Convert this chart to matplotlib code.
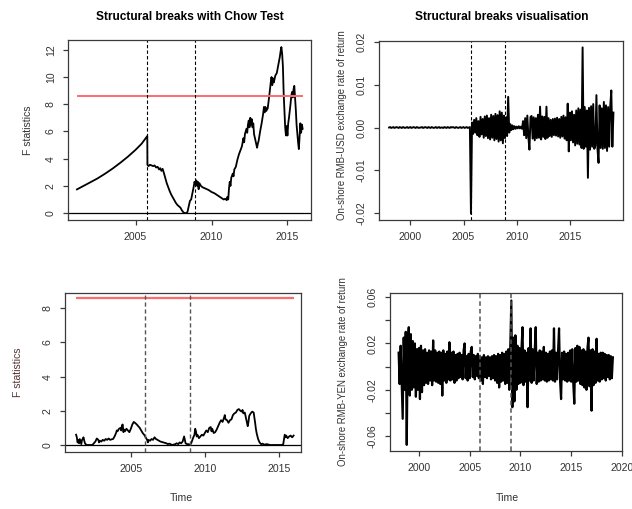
import numpy as np
import matplotlib
matplotlib.use("Agg")
import matplotlib.pyplot as plt

plt.rcParams['font.family'] = ['Liberation Sans', 'DejaVu Sans']

# ---------------- data ----------------
# Panel 1: Chow F statistics, RMB-USD
usd_f_time = [2001.14, 2001.5, 2002.0, 2002.5, 2003.0, 2003.5, 2004.0, 2004.5, 2005.0, 2005.4, 2005.77,
              2005.78, 2005.85, 2005.95, 2006.05, 2006.15, 2006.25, 2006.35, 2006.45, 2006.55, 2006.62,
              2006.7, 2006.78, 2006.85, 2006.95, 2007.05, 2007.15, 2007.25, 2007.35, 2007.45, 2007.55,
              2007.65, 2007.75, 2007.85, 2007.95, 2008.05, 2008.15, 2008.25, 2008.35, 2008.42, 2008.5,
              2008.58, 2008.66, 2008.75, 2008.82, 2008.88, 2008.95, 2009.0, 2009.05, 2009.1, 2009.15,
              2009.2, 2009.3, 2009.4, 2009.5, 2009.6, 2009.8, 2010.0, 2010.2, 2010.4, 2010.6,
              2010.8, 2010.9, 2011.0, 2011.05, 2011.1, 2011.15, 2011.2, 2011.25, 2011.3, 2011.4,
              2011.45, 2011.5, 2011.6, 2011.7, 2011.8, 2011.9, 2012.0, 2012.1, 2012.15, 2012.2,
              2012.3, 2012.35, 2012.4, 2012.45, 2012.5, 2012.55, 2012.6, 2012.65, 2012.7, 2012.75,
              2012.8, 2012.9, 2013.0, 2013.05, 2013.1, 2013.2, 2013.3, 2013.4, 2013.45, 2013.5,
              2013.55, 2013.6, 2013.7, 2013.8, 2013.9, 2013.95, 2014.0, 2014.05, 2014.1, 2014.2,
              2014.3, 2014.35, 2014.4, 2014.45, 2014.5, 2014.55, 2014.6, 2014.65, 2014.7, 2014.75,
              2014.8, 2014.85, 2014.9, 2014.95, 2015.0, 2015.05, 2015.1, 2015.2, 2015.25, 2015.3,
              2015.35, 2015.4, 2015.45, 2015.5, 2015.55, 2015.6, 2015.65, 2015.7, 2015.75, 2015.8,
              2015.85, 2015.9, 2015.95, 2016.0]
usd_f_value = [1.74, 1.95, 2.25, 2.55, 2.9, 3.28, 3.7, 4.15, 4.65, 5.1, 5.66,
               3.55, 3.45, 3.55, 3.5, 3.45, 3.5, 3.35, 3.4, 3.2, 3.3,
               3.1, 3.25, 3.0, 2.6, 2.2, 1.9, 1.6, 1.35, 1.15, 0.95,
               0.75, 0.6, 0.5, 0.4, 0.2, 0.05, 0.0, 0.0, 0.1, 0.5,
               0.9, 1.0, 1.5, 1.9, 2.3, 2.1, 2.4, 2.0, 2.3, 1.75,
               2.2, 2.0, 1.9, 1.85, 1.8, 1.7, 1.55, 1.45, 1.3, 1.15,
               1.0, 1.05, 0.95, 1.2, 1.0, 1.8, 2.3, 2.0, 2.6, 2.9,
               2.7, 3.2, 3.4, 3.9, 4.3, 4.6, 4.9, 5.5, 5.2, 5.8,
               6.2, 5.9, 6.5, 6.8, 6.3, 7.0, 6.5, 6.9, 6.3, 6.6,
               5.8, 5.3, 4.8, 5.1, 5.3, 6.0, 6.6, 7.3, 7.8, 7.4,
               7.8, 7.5, 7.7, 8.6, 9.6, 10.0, 9.4, 9.9, 9.6, 10.1,
               10.3, 10.6, 10.9, 11.2, 11.5, 11.9, 12.2, 11.7, 10.8, 8.8,
               7.5, 6.3, 5.7, 6.4, 5.7, 6.6, 7.0, 8.0, 8.6, 8.9,
               8.5, 9.1, 9.35, 8.5, 7.6, 6.5, 5.8, 5.2, 4.7, 5.6,
               6.6, 5.9, 6.5, 6.2]

# Panel 3: Chow F statistics, RMB-YEN
yen_f_time = [2001.3, 2001.35, 2001.4, 2001.45, 2001.5, 2001.55, 2001.6, 2001.65, 2001.7, 2001.75,
              2001.8, 2001.85, 2001.9, 2001.95, 2002.0, 2002.2, 2002.4, 2002.5, 2002.6, 2002.7,
              2002.8, 2002.85, 2002.9, 2003.0, 2003.1, 2003.2, 2003.3, 2003.4, 2003.5, 2003.6,
              2003.7, 2003.8, 2003.9, 2004.0, 2004.05, 2004.1, 2004.2, 2004.3, 2004.35, 2004.4,
              2004.45, 2004.5, 2004.55, 2004.6, 2004.7, 2004.8, 2004.9, 2005.0, 2005.1, 2005.2,
              2005.3, 2005.4, 2005.5, 2005.6, 2005.7, 2005.8, 2005.9, 2006.0, 2006.1, 2006.15,
              2006.2, 2006.3, 2006.4, 2006.5, 2006.6, 2006.7, 2006.8, 2006.9, 2007.0, 2007.2,
              2007.4, 2007.5, 2007.6, 2007.8, 2008.0, 2008.1, 2008.2, 2008.3, 2008.4, 2008.5,
              2008.6, 2008.65, 2008.7, 2008.8, 2008.9, 2009.0, 2009.1, 2009.2, 2009.3, 2009.35,
              2009.4, 2009.45, 2009.5, 2009.6, 2009.7, 2009.8, 2009.9, 2010.0, 2010.1, 2010.2,
              2010.3, 2010.4, 2010.45, 2010.5, 2010.6, 2010.7, 2010.8, 2010.9, 2011.0, 2011.1,
              2011.2, 2011.3, 2011.35, 2011.4, 2011.5, 2011.6, 2011.7, 2011.8, 2011.9, 2012.0,
              2012.1, 2012.2, 2012.3, 2012.4, 2012.5, 2012.55, 2012.6, 2012.7, 2012.75, 2012.85,
              2012.9, 2012.95, 2013.0, 2013.1, 2013.2, 2013.3, 2013.35, 2013.4, 2013.45, 2013.5,
              2013.6, 2013.7, 2013.8, 2013.9, 2014.0, 2014.2, 2014.4, 2014.6, 2014.8, 2015.0,
              2015.2, 2015.3, 2015.4, 2015.45, 2015.5, 2015.6, 2015.7, 2015.8, 2015.9, 2016.0]
yen_f_value = [0.6, 0.45, 0.15, 0.3, 0.1, 0.35, 0.2, 0.05, 0.3, 0.35,
               0.45, 0.25, 0.1, 0.05, 0.0, 0.0, 0.0, 0.1, 0.2, 0.38,
               0.3, 0.15, 0.25, 0.2, 0.3, 0.25, 0.35, 0.3, 0.38, 0.3,
               0.33, 0.35, 0.5, 0.7, 0.85, 0.8, 0.95, 1.0, 0.85, 1.15,
               1.2, 0.75, 0.9, 0.8, 0.95, 0.85, 0.75, 0.95, 1.2, 1.35,
               1.28, 1.2, 1.1, 1.0, 0.85, 0.7, 0.6, 0.45, 0.3, 0.15,
               0.3, 0.25, 0.35, 0.3, 0.45, 0.35, 0.3, 0.25, 0.2, 0.15,
               0.1, 0.05, 0.08, 0.0, 0.05, 0.1, 0.05, 0.15, 0.1, 0.2,
               0.5, 0.3, 0.1, 0.05, 0.05, 0.0, 0.15, 0.4, 0.6, 0.95,
               0.8, 0.5, 0.6, 0.4, 0.5, 0.6, 0.55, 0.7, 0.85, 0.75,
               1.0, 1.05, 0.8, 0.95, 0.7, 0.75, 0.9, 1.1, 1.3, 1.45,
               1.35, 1.6, 1.75, 1.5, 1.45, 1.3, 1.45, 1.5, 1.75, 1.85,
               1.9, 2.05, 2.1, 2.0, 1.95, 2.05, 1.85, 1.9, 1.7, 1.3,
               1.1, 1.35, 1.7, 1.85, 1.95, 1.9, 1.6, 1.3, 0.95, 0.7,
               0.35, 0.15, 0.05, 0.08, 0.02, 0.05, 0.0, 0.0, 0.0, 0.0,
               0.0, 0.05, 0.6, 0.45, 0.55, 0.4, 0.5, 0.55, 0.45, 0.55]

critical_value = 8.6

usd_breaks = [2005.75, 2008.92]
yen_f_breaks = [2005.95, 2009.0]
yen_r_breaks = [2005.98, 2009.04]

# Returns (10 observations per year from 1998.0)
ret_start = 1998.0
ret_freq = 10
usd_return = [
    0.0, 0.0001, -0.0001, 0.0, 0.0001, -0.0001, 0.0, 0.0001, 0.0, -0.0001,
    0.0001, 0.0, -0.0001, 0.0001, 0.0, -0.0001, 0.0, 0.0001, -0.0001, 0.0,
    0.0001, -0.0001, 0.0, 0.0001, 0.0, -0.0001, 0.0001, 0.0, -0.0001, 0.0,
    0.0, 0.0001, -0.0001, 0.0, 0.0001, 0.0, -0.0001, 0.0001, 0.0, -0.0001,
    0.0001, 0.0, -0.0001, 0.0, 0.0001, -0.0001, 0.0, 0.0001, -0.0001, 0.0,
    0.0, -0.0001, 0.0001, 0.0, -0.0001, 0.0001, 0.0, -0.0001, 0.0001, 0.0,
    0.0001, 0.0, -0.0001, 0.0001, 0.0, -0.0001, 0.0, 0.0001, -0.0001, 0.0,
    0.0001, -0.0001, 0.0, 0.0001, -0.0001, 0.0, 0.0001, -0.0202, 0.0012, -0.0015,
    0.0018, -0.0012, 0.0022, -0.0018, 0.0015, -0.0022, 0.0025, -0.0016, 0.002, -0.0024,
    0.0026, -0.002, 0.0028, -0.0025, 0.0022, -0.0028, 0.003, -0.0024, 0.0027, -0.003,
    0.0032, -0.0027, 0.0029, -0.0033, 0.0038, -0.003, 0.0035, -0.0037, 0.0028, -0.0025,
    0.0024, -0.002, 0.0072, -0.0012, 0.0008, -0.0006, 0.0005, -0.0004, 0.0003, -0.0003,
    0.0002, -0.0002, 0.0003, -0.0002, 0.0002, -0.0003, 0.0015, -0.0018, 0.0022, -0.0025,
    0.0028, -0.0022, -0.0052, 0.0025, 0.0027, -0.0026, 0.0024, -0.003, 0.0022, -0.0025,
    0.003, -0.0024, 0.0049, -0.0028, 0.0026, -0.0022, 0.0025, -0.0027, 0.0049, -0.0024,
    0.0022, -0.002, 0.0018, -0.0022, 0.002, -0.0018, 0.0021, -0.0019, 0.0023, -0.0021,
    0.002, -0.0024, 0.0025, -0.0021, 0.0028, -0.0026, 0.0024, -0.003, 0.0056, -0.0056,
    0.0035, -0.003, 0.0038, -0.0035, 0.003, -0.0042, 0.004, -0.0038, 0.0045, -0.004,
    0.0042, -0.0048, 0.0188, -0.005, 0.0048, -0.0045, 0.004, -0.0118, 0.0046, -0.0052,
    0.005, -0.0045, 0.0055, -0.005, -0.0042, 0.0076, -0.005, -0.0083, 0.0052, -0.0048,
    0.0045, -0.005, 0.006, -0.0048, 0.0052, -0.0055, 0.0048, -0.0045, 0.005, 0.0087,
    -0.0045, 0.0035]
yen_return = [
    0.012, -0.015, 0.018, -0.012, -0.045, 0.025, -0.02, 0.03, -0.0675, 0.022,
    0.034, -0.025, 0.028, -0.02, 0.022, -0.018, 0.02, -0.026, 0.015, -0.02,
    0.016, -0.028, 0.018, -0.022, 0.014, -0.016, 0.015, -0.014, 0.012, -0.015,
    0.014, -0.012, 0.013, -0.016, 0.0226, -0.012, 0.014, -0.013, 0.012, -0.014,
    0.013, -0.015, 0.012, -0.025, 0.014, -0.012, 0.011, -0.014, 0.013, -0.011,
    0.021, -0.012, 0.012, -0.011, 0.013, -0.014, 0.01, -0.012, 0.011, -0.01,
    0.012, -0.009, 0.01, -0.011, 0.014, 0.02, -0.01, 0.009, -0.012, 0.011,
    -0.01, 0.013, 0.017, -0.009, 0.01, -0.011, 0.009, -0.008, 0.011, -0.01,
    0.009, -0.012, 0.008, -0.015, 0.01, -0.009, 0.008, -0.01, 0.009, -0.008,
    0.008, -0.011, 0.009, -0.01, 0.01, -0.012, 0.009, -0.014, 0.011, -0.018,
    0.01, -0.013, 0.012, -0.012, 0.011, -0.015, 0.013, -0.014, 0.015, -0.02,
    0.018, 0.057, -0.035, 0.025, -0.03, 0.027, -0.02, 0.018, -0.015, 0.016,
    -0.014, 0.015, 0.034, -0.016, 0.014, -0.013, 0.012, -0.035, 0.016, -0.012,
    0.033, -0.014, 0.015, -0.012, 0.013, 0.034, -0.015, 0.012, -0.013, 0.014,
    -0.012, 0.013, -0.011, 0.017, -0.012, 0.012, -0.013, 0.011, -0.012, 0.013,
    -0.011, 0.014, -0.012, 0.033, -0.013, 0.012, -0.011, 0.013, 0.033, -0.012,
    -0.028, 0.012, -0.011, 0.013, -0.012, 0.011, -0.013, 0.012, -0.012, 0.014,
    -0.013, 0.015, -0.014, -0.032, 0.016, -0.013, 0.018, -0.012, 0.017, -0.015,
    0.014, -0.016, 0.015, -0.018, 0.013, -0.02, 0.016, 0.025, -0.017, 0.014,
    -0.038, 0.015, -0.016, 0.013, -0.014, 0.024, -0.012, 0.011, -0.013, 0.012,
    -0.011, 0.012, -0.01, 0.011, -0.012, 0.01, -0.009, 0.01, -0.011, 0.009,
    -0.01, 0.008]

title_left = "Structural breaks with Chow Test"
title_right = "Structural breaks visualisation"
ylab_f = "F statistics"
ylab_usd = "On-shore RMB-USD exchange rate of return"
ylab_yen = "On-shore RMB-YEN exchange rate of return"
xlab = "Time"

# ---------------- figure ----------------
W, H = 632, 509
fig = plt.figure(figsize=(W / 100, H / 100), dpi=100)


def rect(x0, y0, x1, y1):
    return [x0 / W, 1 - y1 / H, (x1 - x0) / W, (y1 - y0) / H]


AX_COL = '#3a3a3a'
TXT_COL = '#333333'


def style(ax):
    for s in ax.spines.values():
        s.set_color(AX_COL)
        s.set_linewidth(0.9)
    ax.tick_params(direction='out', length=3.8, width=0.9, colors=AX_COL,
                   labelcolor=TXT_COL, labelsize=7.6, pad=5.0)
    ax.tick_params(axis='y', labelrotation=90)
    for lab in ax.get_yticklabels():
        lab.set_va('center')


ax1 = fig.add_axes(rect(68, 40, 311, 220))
ax2 = fig.add_axes(rect(379, 41, 623, 220))
ax3 = fig.add_axes(rect(65, 293, 301, 452))
ax4 = fig.add_axes(rect(390, 293, 622, 451))

# Panel 1
ax1.plot(usd_f_time, usd_f_value, color='black', lw=1.3)
ax1.hlines(critical_value, usd_f_time[0], usd_f_time[-1], color='#ff6a6a', lw=1.4)
ax1.axhline(0, color='black', lw=0.9)
for b in usd_breaks:
    ax1.axvline(b, color='black', lw=0.8, ls=(0, (3, 2)))
ax1.set_xlim(2000.55, 2016.55)
ax1.set_ylim(-0.51, 12.72)
ax1.set_xticks([2005, 2010, 2015])
ax1.set_yticks([0, 2, 4, 6, 8, 10, 12])
style(ax1)

# Panel 2
t_usd = ret_start + np.arange(len(usd_return)) / ret_freq
ax2.plot(t_usd, usd_return, color='black', lw=1.4)
for b in usd_breaks:
    ax2.axvline(b, color='black', lw=0.8, ls=(0, (3, 2)))
ax2.set_xlim(1997.05, 2020.0)
ax2.set_ylim(-0.0217, 0.0203)
ax2.set_xticks([2000, 2005, 2010, 2015])
ax2.set_yticks([-0.02, -0.01, 0.0, 0.01, 0.02])
ax2.set_yticklabels(['-0.02', '-0.01', '0.00', '0.01', '0.02'])
style(ax2)

# Panel 3
ax3.plot(yen_f_time, yen_f_value, color='black', lw=1.3)
ax3.hlines(critical_value, yen_f_time[0], yen_f_time[-1], color='#ff6a6a', lw=1.6)
ax3.axhline(0, color='black', lw=0.9)
for b in yen_f_breaks:
    ax3.axvline(b, color='#555555', lw=1.0, ls=(0, (3, 2)))
ax3.set_xlim(2000.55, 2016.5)
ax3.set_ylim(-0.41, 8.89)
ax3.set_xticks([2005, 2010, 2015])
ax3.set_yticks([0, 2, 4, 6, 8])
style(ax3)

# Panel 4
t_yen = ret_start + np.arange(len(yen_return)) / ret_freq
ax4.plot(t_yen, yen_return, color='black', lw=1.6)
for b in yen_r_breaks:
    ax4.axvline(b, color='#555555', lw=1.1, ls=(0, (3, 2)))
ax4.set_xlim(1997.15, 2019.96)
ax4.set_ylim(-0.0728, 0.0635)
ax4.set_xticks([2000, 2005, 2010, 2015, 2020])
ax4.set_yticks([-0.06, -0.04, -0.02, 0.0, 0.02, 0.04, 0.06])
ax4.set_yticklabels(['-0.06', '', '-0.02', '', '0.02', '', '0.06'])
style(ax4)

# Text
fig.text(190 / W, 1 - 17 / H, title_left, ha='center', va='center',
         fontsize=8.6, fontweight='bold', color='black')
fig.text(502 / W, 1 - 17 / H, title_right, ha='center', va='center',
         fontsize=8.6, fontweight='bold', color='black')
fig.text(28 / W, 1 - 130 / H, ylab_f, rotation=90, ha='center', va='center',
         fontsize=7.6, color=TXT_COL)
fig.text(18 / W, 1 - 372 / H, ylab_f, rotation=90, ha='center', va='center',
         fontsize=7.6, color='#553333')
fig.text(342 / W, 1 - 125 / H, ylab_usd, rotation=90, ha='center', va='center',
         fontsize=6.9, color=TXT_COL)
fig.text(343 / W, 1 - 372 / H, ylab_yen, rotation=90, ha='center', va='center',
         fontsize=6.9, color=TXT_COL)
fig.text(181 / W, 1 - 498 / H, xlab, ha='center', va='center', fontsize=7.6, color=TXT_COL)
fig.text(507 / W, 1 - 498 / H, xlab, ha='center', va='center', fontsize=7.6, color=TXT_COL)

fig.savefig('out.png', dpi=100)
